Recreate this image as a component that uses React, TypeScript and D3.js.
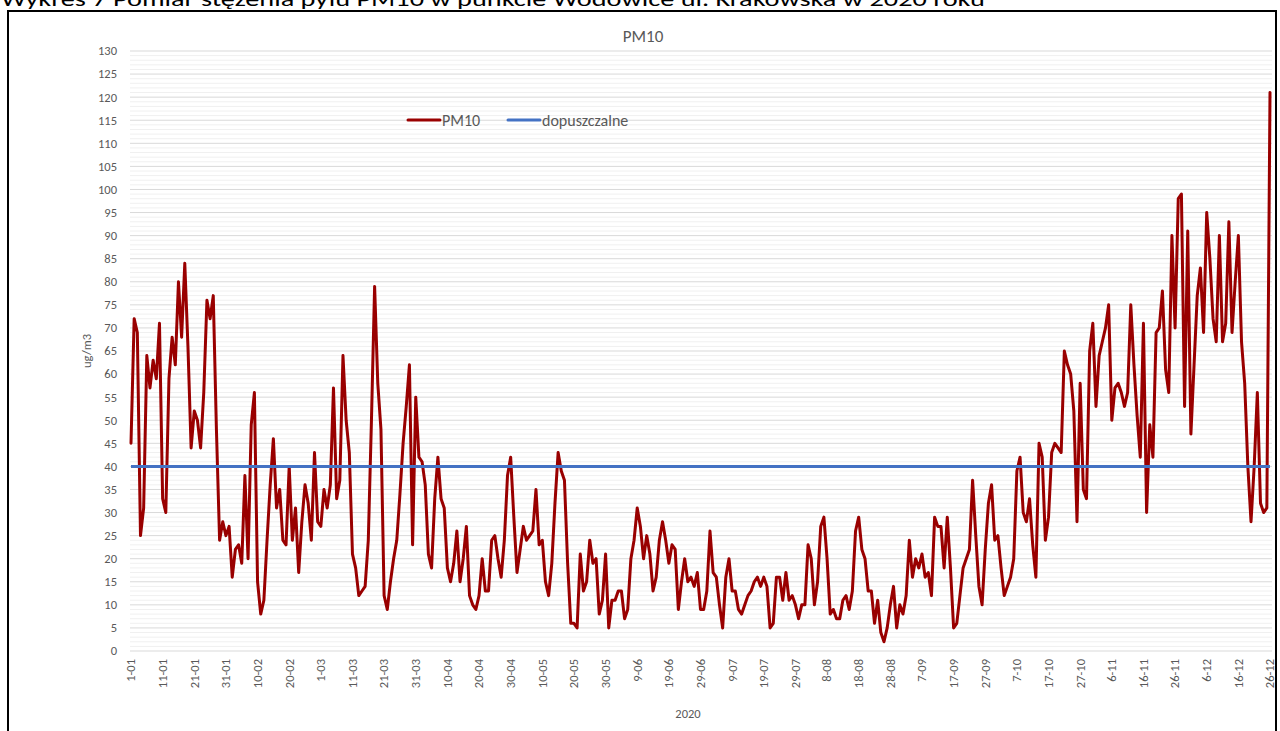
import * as d3 from 'd3';
import { useEffect } from 'react';

// daily PM10 readings, 1 Jan - 26 Dec 2020 (ug/m3)
const jan = [45, 72, 69, 25, 31, 64, 57, 63, 59, 71, 33, 30, 59, 68, 62, 80, 68, 84, 66, 44, 52, 50, 44, 56, 76, 72, 77, 48, 24, 28, 25];
const feb = [27, 16, 22, 23, 19, 38, 20, 49, 56, 15, 8, 11, 24, 36, 46, 31, 35, 24, 23, 40, 24, 31, 17, 28, 36, 32, 24, 43, 28];
const mar = [27, 35, 31, 36, 57, 33, 37, 64, 50, 43, 21, 18, 12, 13, 14, 24, 50, 79, 58, 48, 12, 9, 15, 20, 24, 34, 45, 53, 62, 23, 55];
const apr = [42, 41, 36, 21, 18, 33, 42, 33, 31, 18, 15, 19, 26, 15, 20, 27, 12, 10, 9, 12, 20, 13, 13, 24, 25, 20, 16, 24, 38, 42];
const may = [29, 17, 22, 27, 24, 25, 26, 35, 23, 24, 15, 12, 19, 32, 43, 39, 37, 19, 6, 6, 5, 21, 13, 15, 24, 19, 20, 8, 11, 21, 5];
const jun = [11, 11, 13, 13, 7, 9, 20, 24, 31, 27, 20, 25, 21, 13, 16, 24, 28, 24, 19, 23, 22, 9, 15, 20, 15, 16, 14, 17, 9, 9];
const jul = [13, 26, 17, 16, 10, 5, 16, 20, 13, 13, 9, 8, 10, 12, 13, 15, 16, 14, 16, 14, 5, 6, 16, 16, 11, 17, 11, 12, 10, 7, 10];
const aug = [10, 23, 20, 10, 15, 27, 29, 20, 8, 9, 7, 7, 11, 12, 9, 13, 26, 29, 22, 20, 13, 13, 6, 11, 4, 2, 5, 10, 14, 5, 10];
const sep = [8, 12, 24, 16, 20, 18, 21, 16, 17, 12, 29, 27, 27, 18, 29, 18, 5, 6, 12, 18, 20, 22, 37, 25, 14, 10, 22, 32, 36, 24];
const oct = [25, 18, 12, 14, 16, 20, 39, 42, 30, 28, 33, 23, 16, 45, 42, 24, 29, 43, 45, 44, 43, 65, 62, 60, 52, 28, 58, 35, 33, 65, 71];
const nov = [53, 64, 67, 70, 75, 50, 57, 58, 56, 53, 56, 75, 62, 51, 42, 71, 30, 49, 42, 69, 70, 78, 61, 56, 90, 70, 98, 99, 53, 91];
const dec = [47, 62, 77, 83, 69, 95, 85, 72, 67, 90, 67, 71, 93, 69, 80, 90, 67, 58, 40, 28, 40, 56, 32, 30, 31, 121];

const pm10 = [...jan, ...feb, ...mar, ...apr, ...may, ...jun, ...jul, ...aug, ...sep, ...oct, ...nov, ...dec];
const LIMIT = 40;
const limitSeries = pm10.map(() => LIMIT);

// category labels, one every 10 days
const xLabels = [
  '1-01', '11-01', '21-01', '31-01', '10-02', '20-02', '1-03', '11-03', '21-03', '31-03',
  '10-04', '20-04', '30-04', '10-05', '20-05', '30-05', '9-06', '19-06', '29-06', '9-07',
  '19-07', '29-07', '8-08', '18-08', '28-08', '7-09', '17-09', '27-09', '7-10', '17-10',
  '27-10', '6-11', '16-11', '26-11', '6-12', '16-12', '26-12',
];
const LABEL_STEP = 10;
const Y_MAX = 130;
const Y_STEP = 5;

const CAPTION = 'Wykres 7 Pomiar stężenia pyłu PM10 w punkcie Wodowice ul. Krakowska w 2020 roku';
const FONT = "Carlito, Calibri, 'Open Sans', sans-serif";
const GREY = '#595959';

export default function App() {
  useEffect(() => {
    document.body.style.margin = '0';
  }, []);

  const width = 1280;
  const height = 731;
  const plotLeft = 130;
  const plotRight = 1272;

  const x = d3.scaleLinear().domain([0, (xLabels.length - 1) * LABEL_STEP]).range([131, 1270]);
  const y = d3.scaleLinear().domain([0, Y_MAX]).range([651, 51]);

  const line = d3.line<number>()
    .x((_, i) => x(i))
    .y((d) => y(d));

  const minorTicks = d3.range(0, Y_MAX + 1, 1).filter((v) => v % Y_STEP !== 0);
  const majorTicks = d3.range(0, Y_MAX + 1, Y_STEP);

  return (
    <svg width={width} height={height} style={{ display: 'block', background: '#fff' }} fontFamily={FONT}>
      {/* caption above the chart frame (clipped at the top in the source) */}
      <text x={1} y={6} fontSize={20} fill="#000" textLength={984} lengthAdjust="spacingAndGlyphs">
        {CAPTION}
      </text>
      <rect x={8} y={11} width={1268} height={740} fill="#fff" stroke="#000" strokeWidth={2} />

      <text x={643} y={42} textAnchor="middle" fontSize={17} fill={GREY}>PM10</text>

      {/* gridlines */}
      {minorTicks.map((v) => (
        <line key={'m' + v} x1={plotLeft} x2={plotRight} y1={y(v)} y2={y(v)} stroke="#f0f0f0" strokeWidth={1} />
      ))}
      {majorTicks.map((v) => (
        <line key={'M' + v} x1={plotLeft} x2={plotRight} y1={y(v)} y2={y(v)} stroke="#d9d9d9" strokeWidth={1} />
      ))}

      {/* y axis labels */}
      {majorTicks.map((v) => (
        <text key={'yl' + v} x={117} y={y(v)} dy="0.35em" textAnchor="end" fontSize={12.5} fill={GREY}>
          {v}
        </text>
      ))}
      <text transform={`translate(91,${y(65)}) rotate(-90)`} textAnchor="middle" fontSize={12.5} fill={GREY}>
        ug/m3
      </text>

      {/* x axis labels */}
      {xLabels.map((lab, i) => (
        <text
          key={lab}
          transform={`translate(${x(i * LABEL_STEP)},${659}) rotate(-90)`}
          textAnchor="end"
          dy="0.35em"
          fontSize={12.5}
          fill={GREY}
        >
          {lab}
        </text>
      ))}
      <text x={688} y={718} textAnchor="middle" fontSize={12.5} fill={GREY}>2020</text>

      {/* series */}
      <path d={line(pm10) || ''} fill="none" stroke="#990000" strokeWidth={3} strokeLinejoin="round" strokeLinecap="round" />
      <path d={line(limitSeries) || ''} fill="none" stroke="#4472c4" strokeWidth={3} />

      {/* legend */}
      <line x1={408} x2={440} y1={120} y2={120} stroke="#990000" strokeWidth={3} strokeLinecap="round" />
      <text x={442} y={120} dy="0.35em" fontSize={16} fill={GREY}>PM10</text>
      <line x1={508} x2={540} y1={120} y2={120} stroke="#4472c4" strokeWidth={3} strokeLinecap="round" />
      <text x={542} y={120} dy="0.35em" fontSize={16} fill={GREY}>dopuszczalne</text>
    </svg>
  );
}
